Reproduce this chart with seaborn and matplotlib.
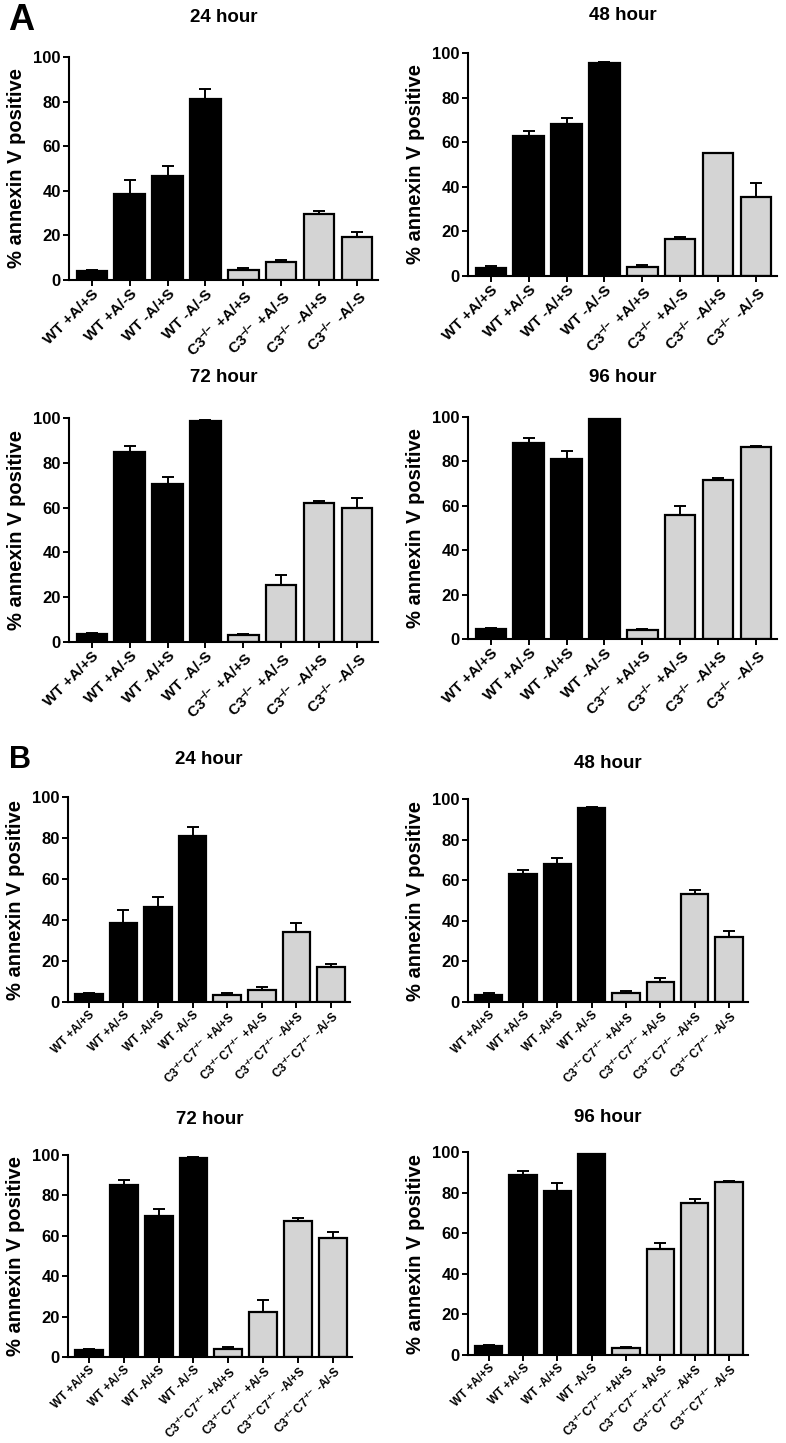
import matplotlib
matplotlib.use('Agg')
import matplotlib.pyplot as plt
import pandas as pd
import seaborn as sns

# x categories
conds = ['+A/+S', '+A/-S', '-A/+S', '-A/-S']
ko = r'$^{-\!/\!-}$'
labels_A = ['WT ' + c for c in conds] + ['C3' + ko + ' ' + c for c in conds]
labels_B = ['WT ' + c for c in conds] + ['C3' + ko + 'C7' + ko + ' ' + c for c in conds]
groups = ['WT'] * 4 + ['KO'] * 4

# panel A values (mean, upper SEM)
A24 = [4, 38.5, 46.5, 81, 4.5, 8, 29.5, 19.5]
A24_err = [0.5, 6.5, 4.5, 4.5, 1, 1, 1.5, 2]
A48 = [3.5, 63, 68, 95.5, 4, 16.5, 55, 35.5]
A48_err = [0.8, 2, 3, 0.5, 1, 1, 0.3, 6]
A72 = [3.5, 85, 70.5, 98.5, 3.2, 25.5, 62, 60]
A72_err = [0.5, 2.5, 3, 0.5, 0.4, 4.5, 0.8, 4.5]
A96 = [4.5, 88.5, 81, 99, 4, 56, 71.5, 86.5]
A96_err = [0.6, 2.2, 3.5, 0.2, 0.4, 4, 1, 0.3]

# panel B values
B24 = [4, 38.5, 46.5, 81, 3.5, 6, 34, 17]
B24_err = [0.6, 6.5, 4.5, 4.5, 1, 1.5, 4.5, 1.5]
B48 = [3.5, 63, 68, 95.5, 4.5, 10, 53, 32]
B48_err = [0.8, 2, 3, 0.5, 1, 2, 2, 3]
B72 = [3.5, 85, 70, 98.5, 4, 22.5, 67.5, 59]
B72_err = [0.5, 2.5, 3.5, 0.5, 1, 5.5, 1.5, 3]
B96 = [4.5, 88.5, 81, 99, 3.5, 52, 75, 85]
B96_err = [0.5, 2, 3.5, 0.2, 0.2, 3, 1.8, 0.5]

sns.set_style('ticks')
plt.rcParams['font.family'] = ['Liberation Sans', 'DejaVu Sans']
plt.rcParams['font.weight'] = 'bold'
plt.rcParams['mathtext.fontset'] = 'custom'
plt.rcParams['mathtext.bf'] = 'Liberation Sans:bold'
plt.rcParams['mathtext.rm'] = 'Liberation Sans:bold'
plt.rcParams['mathtext.default'] = 'bf'
for k in ['text.color', 'axes.labelcolor', 'xtick.color', 'ytick.color', 'axes.edgecolor']:
    plt.rcParams[k] = 'black'

W, H = 786, 1443
fig = plt.figure(figsize=(W / 100, H / 100), dpi=100)

# (values, errors, labels, title, left, right, top, bottom, title_y, xtick size)
panels = [
    (A24, A24_err, labels_A, '24 hour', 69, 378, 57, 280, 18, 11),
    (A48, A48_err, labels_A, '48 hour', 468, 777, 53, 276, 15, 11),
    (A72, A72_err, labels_A, '72 hour', 69, 378, 418, 642, 378, 11),
    (A96, A96_err, labels_A, '96 hour', 468, 777, 417, 639, 378, 11),
    (B24, B24_err, labels_B, '24 hour', 68, 350, 797, 1002, 760, 8.5),
    (B48, B48_err, labels_B, '48 hour', 468, 748, 799, 1002, 763, 8.5),
    (B72, B72_err, labels_B, '72 hour', 68, 352, 1155, 1357, 1119, 8.5),
    (B96, B96_err, labels_B, '96 hour', 468, 748, 1152, 1355, 1117, 8.5),
]

for vals, errs, labels, title, l, r, t, b, ty, xts in panels:
    ax = fig.add_axes([l / W, 1 - b / H, (r - l) / W, (b - t) / H])
    df = pd.DataFrame({'label': labels, 'value': vals, 'group': groups})
    sns.barplot(data=df, x='label', y='value', hue='group',
                palette={'WT': 'black', 'KO': '#d4d4d4'}, dodge=False,
                width=0.8, edgecolor='black', linewidth=1.6,
                errorbar=None, legend=False, ax=ax, zorder=2)
    ax.errorbar(x=list(range(len(vals))), y=vals, yerr=[[0] * len(vals), errs],
                fmt='none', ecolor='black', elinewidth=1.4, capsize=4.5,
                capthick=1.4, zorder=1, clip_on=False)
    ax.set_xlim(-0.6, 7.55)
    ax.set_ylim(0, 100)
    ax.set_yticks([0, 20, 40, 60, 80, 100])
    ax.set_xlabel('')
    ax.set_ylabel('% annexin V positive', fontsize=14.5, fontweight='bold', labelpad=5)
    ax.tick_params(axis='y', labelsize=12, width=1.4, length=4, direction='out', pad=2)
    ax.tick_params(axis='x', labelsize=xts, width=1.4, length=4, direction='out', pad=1)
    for lab in ax.get_xticklabels():
        lab.set_rotation(45)
        lab.set_ha('right')
        lab.set_rotation_mode('anchor')
        lab.set_fontweight('bold')
    for lab in ax.get_yticklabels():
        lab.set_fontweight('bold')
    for s in ['left', 'bottom']:
        ax.spines[s].set_linewidth(1.5)
    sns.despine(ax=ax)
    fig.text((l + r) / 2 / W, 1 - ty / H, title, ha='center', va='center',
             fontsize=13.5, fontweight='bold')

fig.text(8 / W, 1 - 20 / H, 'A', ha='left', va='center', fontsize=26, fontweight='bold')
fig.text(9 / W, 1 - 760 / H, 'B', ha='left', va='center', fontsize=22, fontweight='bold')

fig.savefig('out.png', dpi=100)
